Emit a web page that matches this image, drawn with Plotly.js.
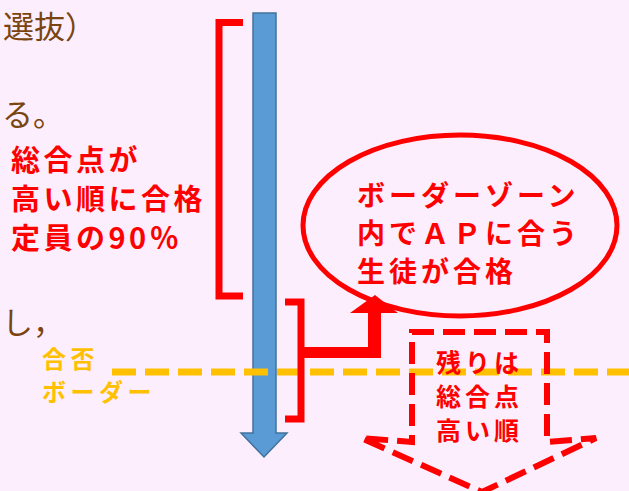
<!DOCTYPE html>
<html>
<head>
<meta charset="utf-8">
<script src="https://cdn.plot.ly/plotly-3.0.1.min.js"></script>
<style>
html,body{margin:0;padding:0;background:#FCEEFC;}
#chart{width:629px;height:491px;}
</style>
</head>
<body>
<div id="chart"></div>
<script>
// ---- text content of the diagram ----
const brownLines = ['選抜）', 'る。', 'し，'];
const leftRedLines = ['総合点が', '高い順に合格', '定員の90％'];
const bubbleLines = ['ボーダーゾーン', '内でＡＰに合う', '生徒が合格'];
const borderLabelLines = ['合否', 'ボーダー'];
const restLines = ['残りは', '総合点', '高い順'];

const BG = '#FCEEFC';
const RED = '#FF0000';
const ORANGE = '#FFC000';
const BROWN = '#7A4410';
const FONT = '"Noto Sans CJK JP", "Noto Sans", sans-serif';

const annSpecs = [];
function lines(arr, x, y0, dy, size, color, ls) {
  arr.forEach((t, i) => annSpecs.push({
    ann: {
      text: t, x: x, y: y0 + i * dy, xref: 'x', yref: 'y',
      xanchor: 'left', yanchor: 'middle', align: 'left', showarrow: false,
      font: {family: FONT, size: size, color: color, weight: 'bold'}
    }, ls: ls
  }));
}
function brown(t, x, y, yanchor) {
  annSpecs.push({ann: {
    text: t, x: x, y: y, xref: 'x', yref: 'y',
    xanchor: 'left', yanchor: yanchor, align: 'left', showarrow: false,
    font: {family: FONT, size: 31, color: BROWN}
  }, ls: 0});
}

brown(brownLines[0], 1, 0, 'top');
brown(brownLines[1], 0, 112, 'middle');
brown(brownLines[2], 0, 320, 'middle');
lines(leftRedLines, 9, 158, 39, 29, RED, 3.5);
lines(bubbleLines, 355, 194, 38, 28, RED, 4);
lines(borderLabelLines, 40, 357.5, 33, 24, ORANGE, 4.5);
lines(restLines, 434, 361, 34, 25, RED, 4);

const annotations = annSpecs.map(s => s.ann);
const letterSpacing = annSpecs.map(s => s.ls);

const shapes = [
  // blue downward arrow
  {type: 'path', xref: 'x', yref: 'y', layer: 'above',
   path: 'M253,13 L276,13 L276,433 L287,433 L264,457 L241,433 L253,433 Z',
   fillcolor: '#5B9BD5', line: {color: '#41719C', width: 1.5}},
  // orange pass/fail border line
  {type: 'line', xref: 'x', yref: 'y', layer: 'above',
   x0: 112, x1: 640, y0: 372, y1: 372,
   line: {color: ORANGE, width: 7, dash: '24px,9px'}},
  // left bracket
  {type: 'path', xref: 'x', yref: 'y', layer: 'above',
   path: 'M243,22.5 L219,22.5 L219,296 L243,296',
   line: {color: RED, width: 7}},
  // right bracket
  {type: 'path', xref: 'x', yref: 'y', layer: 'above',
   path: 'M285,302 L301,302 L301,419 L285,419',
   line: {color: RED, width: 7}},
  // connector
  {type: 'path', xref: 'x', yref: 'y', layer: 'above',
   path: 'M300,347 L368,347 L368,312 L381,312 L381,358 L300,358 Z',
   fillcolor: RED, line: {color: RED, width: 0}},
  {type: 'path', xref: 'x', yref: 'y', layer: 'above',
   path: 'M350,313 L398,313 L375,295 Z',
   fillcolor: RED, line: {color: RED, width: 0}},
  // ellipse bubble
  {type: 'circle', xref: 'x', yref: 'y', layer: 'above',
   x0: 303, x1: 617, y0: 135, y1: 316,
   line: {color: RED, width: 5}},
  // dashed down block arrow
  {type: 'path', xref: 'x', yref: 'y', layer: 'above',
   path: 'M412,332 L547,332 L547,442 L596,438 L482,492 L361,438 L412,442 Z',
   line: {color: RED, width: 6, dash: '22px,9px'}}
];

const layout = {
  width: 629, height: 491,
  margin: {l: 0, r: 0, t: 0, b: 0, pad: 0},
  paper_bgcolor: BG, plot_bgcolor: BG,
  showlegend: false,
  xaxis: {range: [0, 629], visible: false, fixedrange: true},
  yaxis: {range: [491, 0], visible: false, fixedrange: true},
  shapes: shapes,
  annotations: annotations
};

Plotly.newPlot('chart', [], layout, {staticPlot: true, displayModeBar: false}).then(gd => {
  gd.querySelectorAll('g.annotation').forEach(g => {
    const i = +g.getAttribute('data-index');
    const t = g.querySelector('text.annotation-text');
    if (t && letterSpacing[i]) t.style.letterSpacing = letterSpacing[i] + 'px';
  });
});
</script>
</body>
</html>
